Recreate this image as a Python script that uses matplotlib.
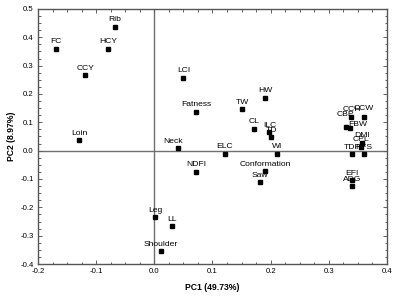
import matplotlib
matplotlib.use("Agg")
import matplotlib.pyplot as plt
from matplotlib.ticker import MultipleLocator

plt.rcParams['font.family'] = ['Liberation Sans', 'DejaVu Sans']

# Loadings
names = ["FC", "Rib", "HCY", "CCY", "Loin", "LCI", "Fatness", "Neck", "NDFI",
         "HW", "TW", "CL", "ILC", "TD", "ELC", "WI", "Conformation", "Saw",
         "Leg", "LL", "Shoulder", "EFI", "ADG",
         "CCH", "CBP", "CCW", "FBW", "DMI", "CPL", "TDF", "RFS"]
pc1 = [-0.169, -0.068, -0.079, -0.119, -0.129, 0.050, 0.072, 0.041, 0.072,
       0.191, 0.151, 0.171, 0.198, 0.201, 0.121, 0.211, 0.191, 0.181,
       0.001, 0.031, 0.011, 0.340, 0.340,
       0.339, 0.330, 0.360, 0.336, 0.357, 0.356, 0.340, 0.360]
pc2 = [0.359, 0.437, 0.359, 0.266, 0.037, 0.257, 0.137, 0.008, -0.075,
       0.187, 0.147, 0.077, 0.066, 0.047, -0.011, -0.011, -0.072, -0.111,
       -0.234, -0.266, -0.354, -0.105, -0.125,
       0.118, 0.082, 0.117, 0.081, 0.028, 0.014, -0.012, -0.012]

# label offsets (points) where the default does not fit
offsets = {"Neck": (-3.6, 4.8), "CBP": (-0.7, 9.6), "CCH": (0, 5.8),
           "CCW": (0, 6.3), "FBW": (5.5, 2.4)}

fig = plt.figure(figsize=(3.97, 2.98), dpi=100)
ax = fig.add_axes([0.0957, 0.114, 0.879, 0.856])

ax.axvline(0, color="#707070", lw=1.0, zorder=1)
ax.axhline(0, color="#707070", lw=1.0, zorder=1)
ax.plot(pc1, pc2, "s", color="black", ms=2.7, zorder=3)

for n, x, y in zip(names, pc1, pc2):
    dx, dy = offsets.get(n, (0, 5.0))
    ax.annotate(n, (x, y), xytext=(dx, dy), textcoords="offset points",
                ha="center", va="center", fontsize=6.1, color="black")

ax.set_xlim(-0.2, 0.4)
ax.set_ylim(-0.4, 0.5)
ax.xaxis.set_major_locator(MultipleLocator(0.1))
ax.xaxis.set_minor_locator(MultipleLocator(0.025))
ax.yaxis.set_major_locator(MultipleLocator(0.1))
ax.yaxis.set_minor_locator(MultipleLocator(0.025))
ax.xaxis.set_major_formatter(lambda v, p: f"{v:.1f}")
ax.yaxis.set_major_formatter(lambda v, p: f"{v:.1f}")
ax.tick_params(which="both", direction="in", top=True, right=True,
               color="#606060", width=0.7, labelsize=5.6, pad=3)
ax.tick_params(which="major", length=3)
ax.tick_params(which="minor", length=1.8)
for s in ax.spines.values():
    s.set_color("#555555")
    s.set_linewidth(1.0)

fig.text(0.5 * (38 + 387) / 397, 1 - 287.5 / 298, "PC1 (49.73%)",
         ha="center", va="center", fontsize=6.2, fontweight="bold")
fig.text(11.7 / 397, 1 - 136.5 / 298, "PC2 (8.97%)", rotation=90,
         ha="center", va="center", fontsize=6.2, fontweight="bold")

fig.savefig("out.png", dpi=100)
